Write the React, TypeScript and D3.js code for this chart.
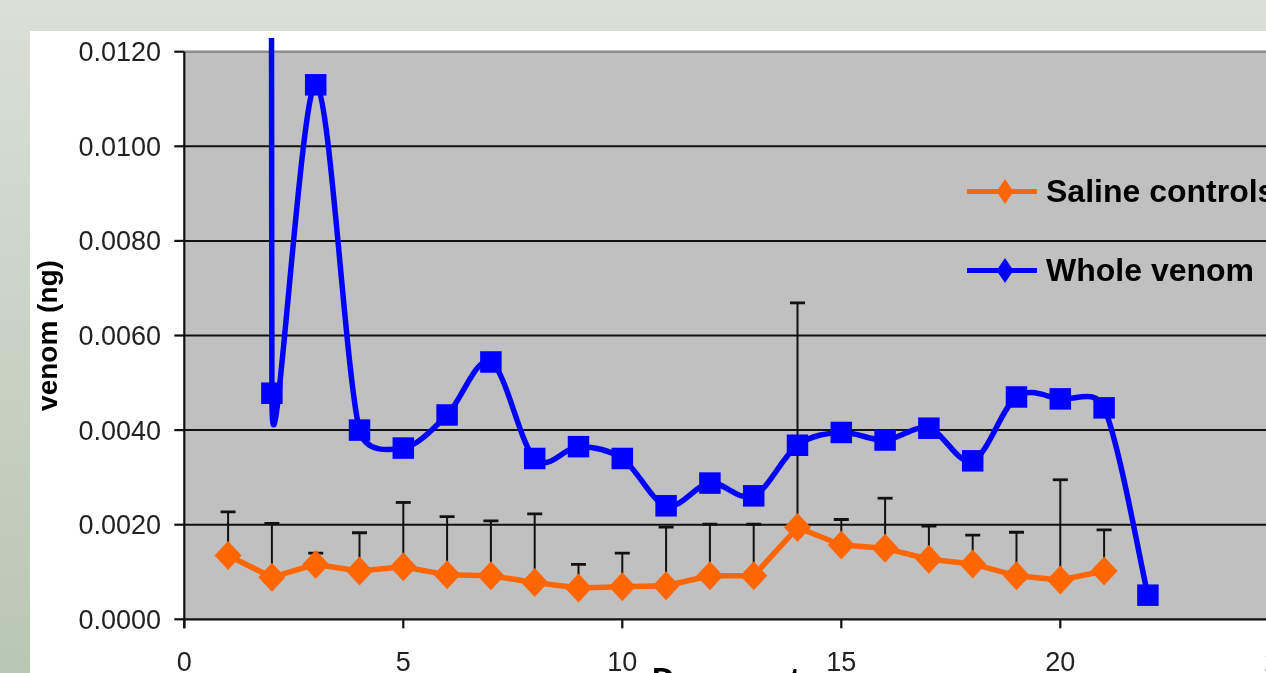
import React from 'react';
import * as d3 from 'd3';

// ---- data ----
const salineDays = [1, 2, 3, 4, 5, 6, 7, 8, 9, 10, 11, 12, 13, 14, 15, 16, 17, 18, 19, 20, 21];
const salineValues = [0.00135, 0.00089, 0.00116, 0.00102, 0.00111, 0.00094, 0.00092, 0.00078, 0.00066, 0.00069, 0.00071, 0.00092, 0.00092, 0.00194, 0.00157, 0.0015, 0.00127, 0.00117, 0.00092, 0.00083, 0.00102];
const salineErrPlus = [0.00092, 0.00114, 0.00024, 0.00081, 0.00136, 0.00123, 0.00116, 0.00145, 0.0005, 0.00071, 0.00124, 0.00109, 0.00109, 0.00475, 0.00054, 0.00106, 0.0007, 0.00061, 0.00092, 0.00212, 0.00087];

const venomDays = [1, 2, 3, 4, 5, 6, 7, 8, 9, 10, 11, 12, 13, 14, 15, 16, 17, 18, 19, 20, 21, 22];
// day 1 is an off-scale outlier (only its line shows, as the near-vertical stroke at day 2)
const venomValues = [1.0, 0.00478, 0.0113, 0.004, 0.00362, 0.00432, 0.00544, 0.0034, 0.00365, 0.0034, 0.0024, 0.00288, 0.00261, 0.00368, 0.00395, 0.00379, 0.00404, 0.00335, 0.0047, 0.00466, 0.00447, 0.00051];

const yTicks = [0, 0.002, 0.004, 0.006, 0.008, 0.01, 0.012];
const xTicks = [0, 5, 10, 15, 20, 25];
const seriesNames = ['Saline controls', 'Whole venom'];

const W = 1266;
const H = 673;
const ORANGE = '#FF6600';
const BLUE = '#0000FF';
const FONT = "'Liberation Sans', Arial, sans-serif";

const x = d3.scaleLinear().domain([0, 25]).range([184.3, 184.3 + 25 * 43.8]);
const y = d3.scaleLinear().domain([0, 0.012]).range([619.3, 51.7]);

type P = [number, number];
const dist = (a: P, b: P) => Math.hypot(a[0] - b[0], a[1] - b[1]);

// Excel-style smoothed line (Bezier with capped control points)
function excelSmooth(pts: P[]): string {
  const p = d3.path();
  const n = pts.length;
  p.moveTo(pts[0][0], pts[0][1]);
  for (let i = 0; i < n - 1; i++) {
    const p0 = pts[i === 0 ? 0 : i - 1];
    const p1 = pts[i];
    const p2 = pts[i + 1];
    const p3 = pts[i + 2 < n ? i + 2 : n - 1];
    const d02 = dist(p0, p2);
    const d12 = dist(p1, p2);
    const d13 = dist(p1, p3);
    const f1 = d02 === 0 ? 0 : d02 / 6 < d12 / 2 ? 1 / 6 : d12 / (2 * d02);
    const f2 = d13 === 0 ? 0 : d13 / 6 < d12 / 2 ? 1 / 6 : d12 / (2 * d13);
    const c1: P = [p1[0] + (p2[0] - p0[0]) * f1, p1[1] + (p2[1] - p0[1]) * f1];
    const c2: P = [p2[0] - (p3[0] - p1[0]) * f2, p2[1] - (p3[1] - p1[1]) * f2];
    p.bezierCurveTo(c1[0], c1[1], c2[0], c2[1], p2[0], p2[1]);
  }
  return p.toString();
}

export default function App() {
  const plotLeft = x(0);
  const plotRight = x(25);
  const plotTop = y(0.012);
  const plotBottom = y(0);

  const salinePts: P[] = salineDays.map((d, i) => [x(d), y(salineValues[i])]);
  const venomPts: P[] = venomDays.map((d, i) => [x(d), y(venomValues[i])]);
  const salineLine = d3.line<P>().x((d) => d[0]).y((d) => d[1])(salinePts) || '';
  const venomLine = excelSmooth(venomPts);

  const diamond = (hw: number, hh: number) => `M0,${-hh}L${hw},0L0,${hh}L${-hw},0Z`;
  const sq = 21.5;

  return (
    <svg width={W} height={H} style={{ position: 'fixed', left: 0, top: 0, display: 'block' }} fontFamily={FONT}>
      <defs>
        <linearGradient id="bg" x1="0" y1="0" x2="0" y2="1">
          <stop offset="0" stopColor="#DADFD8" />
          <stop offset="1" stopColor="#B8C7B2" />
        </linearGradient>
        <clipPath id="venomClip">
          <rect x={plotLeft} y={38} width={plotRight - plotLeft} height={plotBottom - 38} />
        </clipPath>
        <clipPath id="plotClip">
          <rect x={plotLeft} y={plotTop} width={plotRight - plotLeft} height={plotBottom - plotTop} />
        </clipPath>
      </defs>
      <rect x={0} y={0} width={W} height={H} fill="url(#bg)" />
      <rect x={30} y={31} width={W} height={H} fill="#FFFFFF" />

      {/* plot area */}
      <rect x={plotLeft} y={plotTop} width={plotRight - plotLeft} height={plotBottom - plotTop} fill="#C0C0C0" />
      {yTicks.filter((t) => t > 0 && t < 0.012).map((t) => (
        <line key={t} x1={plotLeft} x2={plotRight} y1={y(t)} y2={y(t)} stroke="#111" strokeWidth={2} />
      ))}
      <line x1={plotLeft} x2={plotRight} y1={plotTop} y2={plotTop} stroke="#8C8C8C" strokeWidth={2.5} />

      {/* axes */}
      <line x1={plotLeft} x2={plotLeft} y1={plotTop} y2={plotBottom + 9} stroke="#111" strokeWidth={2.2} />
      <line x1={plotLeft} x2={plotRight} y1={plotBottom} y2={plotBottom} stroke="#111" strokeWidth={2.2} />
      {yTicks.map((t) => (
        <g key={t}>
          <line x1={plotLeft - 10} x2={plotLeft} y1={y(t)} y2={y(t)} stroke="#111" strokeWidth={2.2} />
          <text x={161} y={y(t) + 9.5} textAnchor="end" fontSize={27} fill="#222">
            {t.toFixed(4)}
          </text>
        </g>
      ))}
      {xTicks.map((t) => (
        <g key={t}>
          <line x1={x(t)} x2={x(t)} y1={plotBottom} y2={plotBottom + 9} stroke="#111" strokeWidth={2.2} />
          <text x={x(t)} y={670.5} textAnchor="middle" fontSize={27} fill="#222">
            {t}
          </text>
        </g>
      ))}

      {/* axis titles */}
      <text transform={`translate(57,${(plotTop + plotBottom) / 2}) rotate(-90)`} textAnchor="middle" fontSize={28} fontWeight="bold" fill="#000">
        venom (ng)
      </text>
      <text x={726} y={690} textAnchor="middle" fontSize={31} fontWeight="bold" fill="#000">
        Days post
      </text>

      {/* saline series with plus error bars */}
      <g clipPath="url(#plotClip)">
        {salineDays.map((d, i) => {
          const cx = x(d);
          const top = y(salineValues[i] + salineErrPlus[i]);
          return (
            <g key={d}>
              <line x1={cx} x2={cx} y1={y(salineValues[i])} y2={top} stroke="#111" strokeWidth={2} />
              <line x1={cx - 7.5} x2={cx + 7.5} y1={top} y2={top} stroke="#111" strokeWidth={2.8} />
            </g>
          );
        })}
        <path d={salineLine} fill="none" stroke={ORANGE} strokeWidth={5.5} strokeLinejoin="round" />
        {salinePts.map((p, i) => (
          <path key={i} d={diamond(13.5, 14.5)} transform={`translate(${p[0]},${p[1]})`} fill={ORANGE} />
        ))}
      </g>

      {/* whole venom series */}
      <g clipPath="url(#venomClip)">
        <path d={venomLine} fill="none" stroke={BLUE} strokeWidth={5.5} strokeLinejoin="round" />
      </g>
      <g clipPath="url(#plotClip)">
        {venomPts.map((p, i) => (
          <rect key={i} x={p[0] - sq / 2} y={p[1] - sq / 2} width={sq} height={sq} fill={BLUE} />
        ))}
      </g>

      {/* legend */}
      {[ORANGE, BLUE].map((c, i) => {
        const ly = i === 0 ? 191.5 : 270.5;
        return (
          <g key={i}>
            <line x1={967} x2={1037} y1={ly} y2={ly} stroke={c} strokeWidth={5} />
            <path d={diamond(8.5, 12.5)} transform={`translate(1005,${ly})`} fill={c} />
            <text x={1046} y={ly + 10.5} fontSize={32} fontWeight="bold" fill="#000">
              {seriesNames[i]}
            </text>
          </g>
        );
      })}
    </svg>
  );
}
